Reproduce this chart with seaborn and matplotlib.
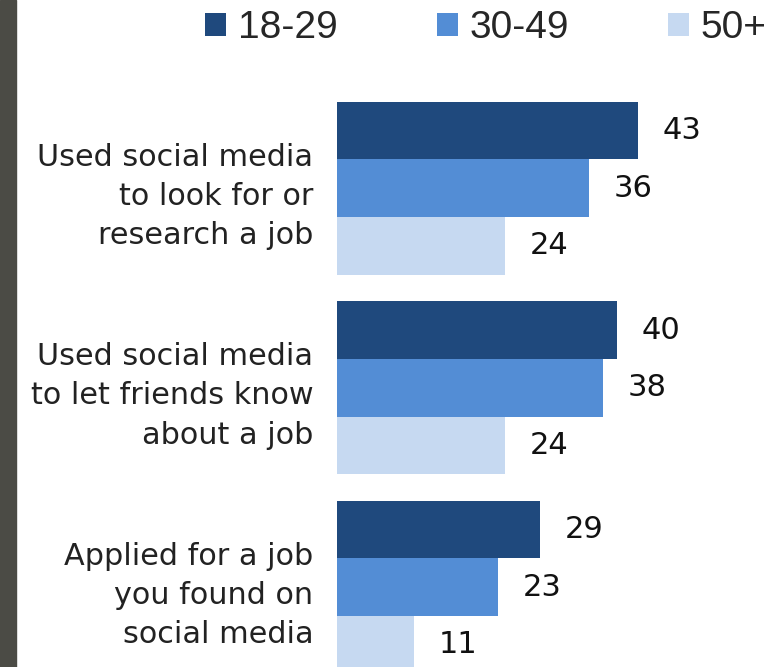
import matplotlib.pyplot as plt
import matplotlib.patches as mpatches
import pandas as pd
import seaborn as sns

# chart data
activities = [
    "Used social media\nto look for or\nresearch a job",
    "Used social media\nto let friends know\nabout a job",
    "Applied for a job\nyou found on\nsocial media",
]
age_groups = ["18-29", "30-49", "50+"]
share_18_29 = [43, 40, 29]
share_30_49 = [36, 38, 23]
share_50_plus = [24, 24, 11]
colors = ["#1f497d", "#538dd5", "#c6d9f1"]

df = pd.DataFrame({
    "activity": activities * 3,
    "age": [a for a in age_groups for _ in activities],
    "share": share_18_29 + share_30_49 + share_50_plus,
})

sns.set_style("white")
plt.rcParams["font.family"] = ["DejaVu Sans"]

W, H = 768, 667
fig = plt.figure(figsize=(W / 100, H / 100), dpi=100)
left_px = 337
ax = fig.add_axes([left_px / W, 0, 1 - left_px / W, 1])

sns.barplot(data=df, x="share", y="activity", hue="age", orient="h",
            palette=colors, width=0.865, saturation=1, linewidth=0,
            ax=ax, legend=True)

for c in ax.containers:
    ax.bar_label(c, padding=18, fontsize=22, color="#111111")

# pixel mapping: 7 px per point, groups every ~199.5 px
ax.set_xlim(0, (W - left_px) / 7.0)
ax.set_ylim(2 + (667 - 587.25) / 199.5, -188.25 / 199.5)

ax.set_xlabel("")
ax.set_ylabel("")
ax.set_xticks([])
ax.tick_params(axis="y", length=0, pad=17)
for lab in ax.get_yticklabels():
    lab.set_fontsize(21.8)
    lab.set_color("#222222")
    lab.set_linespacing(1.45)
sns.despine(ax=ax, left=True, bottom=True)

handles, labels = ax.get_legend_handles_labels()
ax.get_legend().remove()
fig.legend(handles, labels, loc="upper left", bbox_to_anchor=(205 / W, 1 - 10 / H),
           ncol=3, frameon=False, handlelength=0.54, handleheight=0.54,
           handletextpad=0.3, columnspacing=2.55, borderpad=0, borderaxespad=0,
           prop={"family": "Liberation Sans", "size": 28})

# dark strip on the left edge
fig.patches.append(mpatches.Rectangle((0, 0), 16 / W, 1, transform=fig.transFigure,
                                      color="#4b4b45", zorder=0))

fig.savefig("out.png", dpi=100)
